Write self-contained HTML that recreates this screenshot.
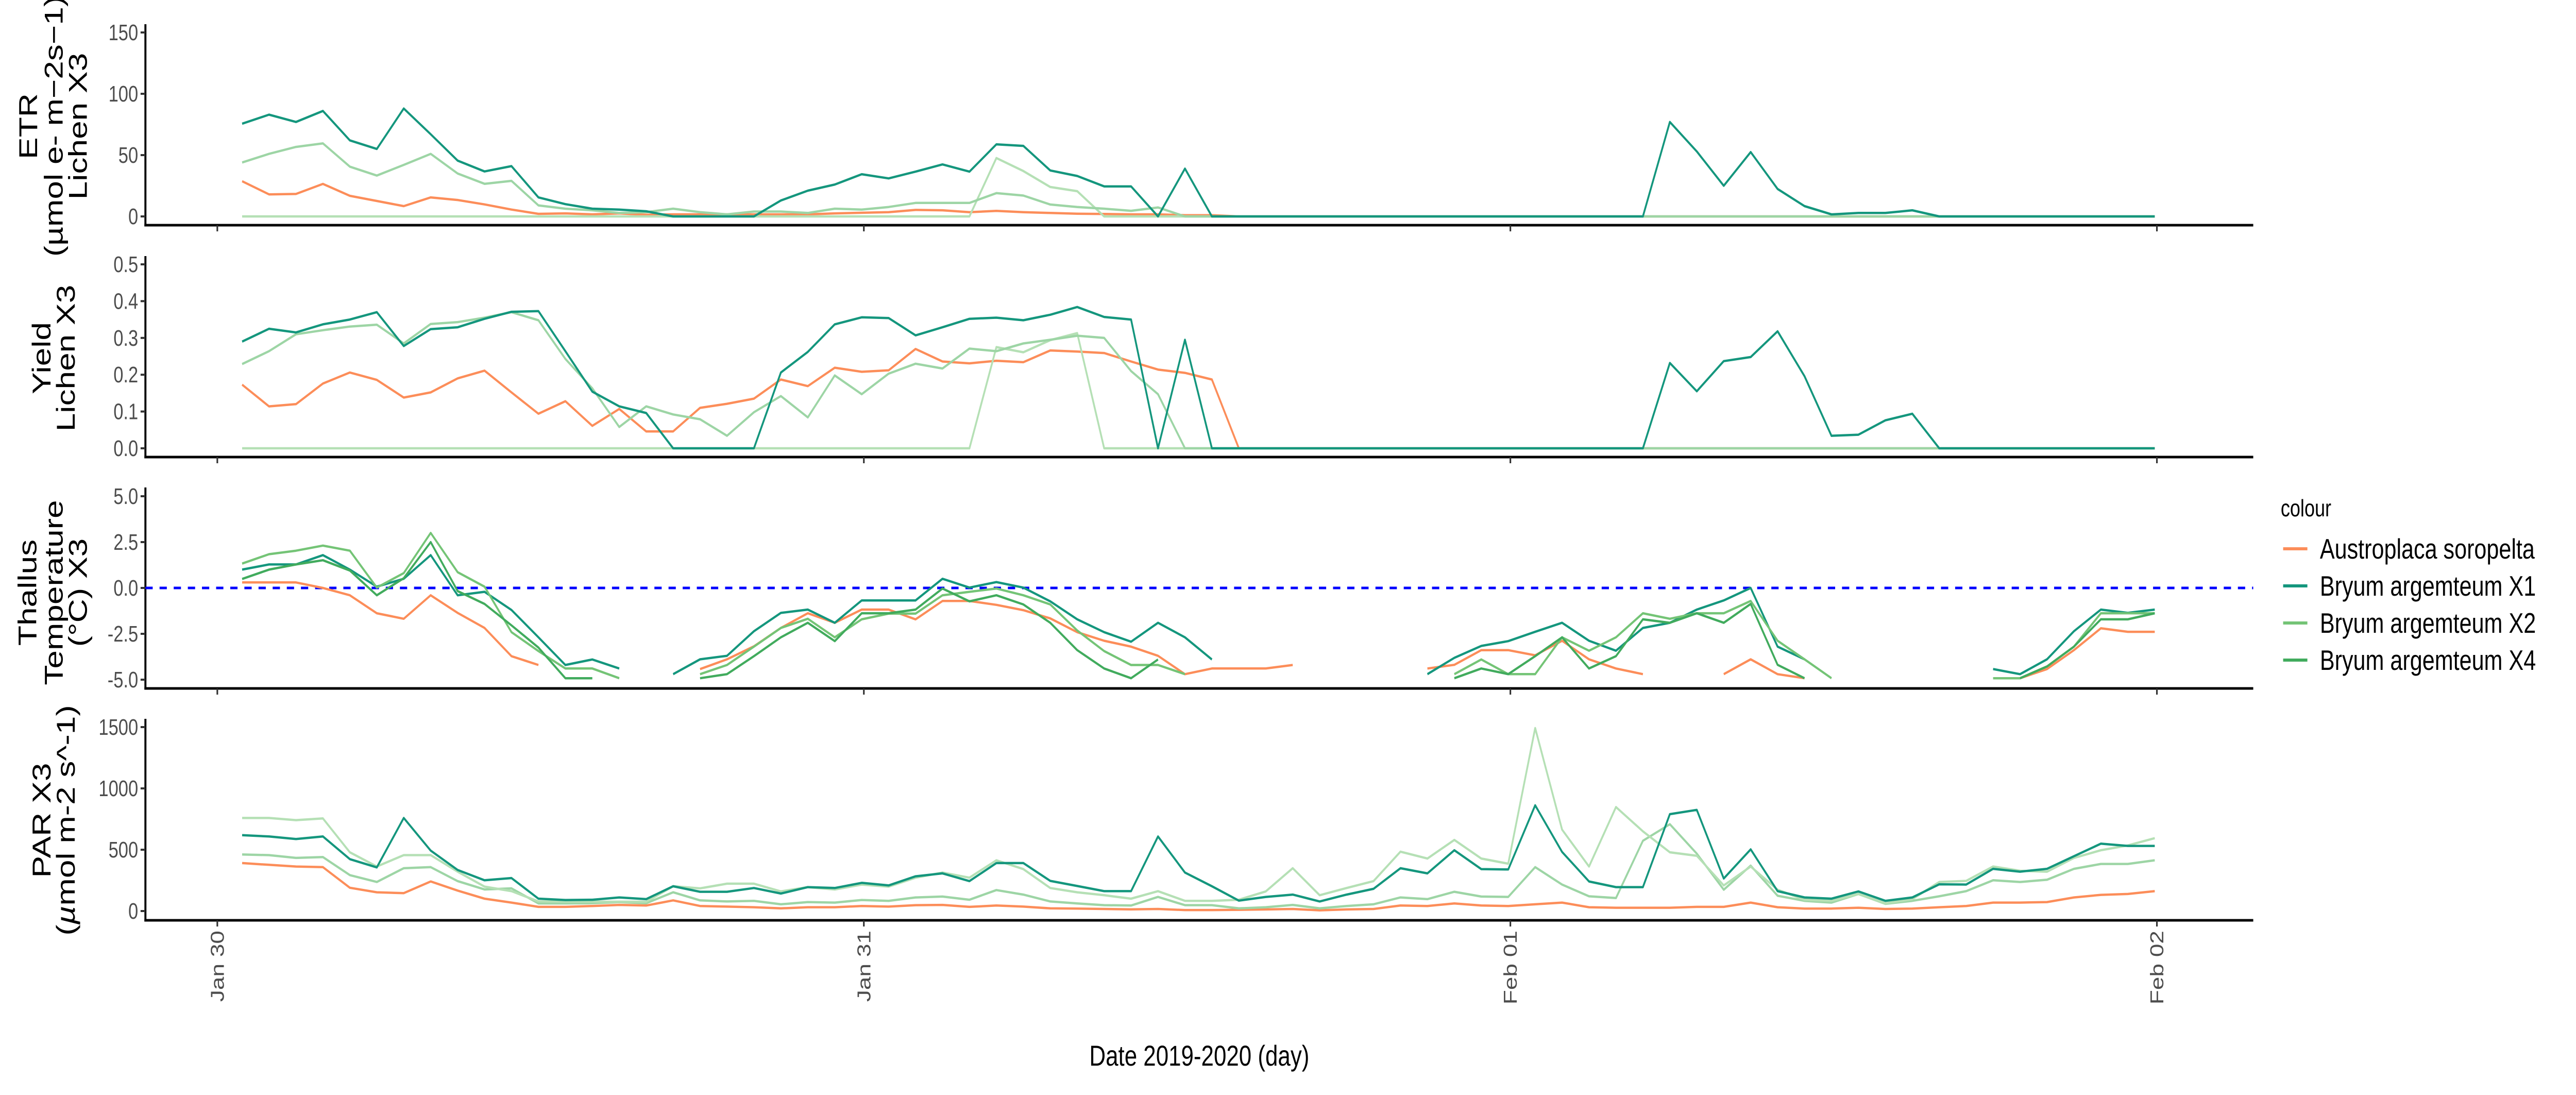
<!DOCTYPE html>
<html><head><meta charset="utf-8"><style>
html,body{margin:0;padding:0;background:#fff;overflow:hidden;width:100%;height:100%;}
svg{display:block;font-family:"Liberation Sans",sans-serif;width:100vw;height:100vh;}
</style></head><body>
<svg id="chart" viewBox="0 0 6377 2125" preserveAspectRatio="none" xmlns="http://www.w3.org/2000/svg">
<rect x="0" y="0" width="6377" height="2125" fill="#fff"/>
<g id="axes"></g>
<g id="marks"></g>
<g font-size="64" fill="#000" text-anchor="middle">
<text transform="translate(92,245) rotate(-90)">ETR</text>
<text transform="translate(155,245) rotate(-90)">(µmol e- m−2s−1)</text>
<text transform="translate(215,245) rotate(-90)">Lichen X3</text>
</g>
<g font-size="64" fill="#000" text-anchor="middle">
<text transform="translate(125,695) rotate(-90)">Yield</text>
<text transform="translate(185,695) rotate(-90)">Lichen X3</text>
</g>
<g font-size="64" fill="#000" text-anchor="middle">
<text transform="translate(90,1150) rotate(-90)">Thallus</text>
<text transform="translate(155,1150) rotate(-90)">Temperature</text>
<text transform="translate(215,1150) rotate(-90)">(°C) X3</text>
</g>
<g font-size="64" fill="#000" text-anchor="middle">
<text transform="translate(125,1592) rotate(-90)">PAR X3</text>
<text transform="translate(185,1592) rotate(-90)">(<tspan font-style="italic">µ</tspan>mol m-2 s^-1)</text>
</g>
<text x="2969" y="2068" font-size="56" text-anchor="middle" fill="#000">Date 2019-2020 (day)</text>
<g>
<text x="5646" y="1002" font-size="46" fill="#000">colour</text>
<g><line x1="5652" y1="1065" x2="5712" y2="1065" stroke="#fc8d59" stroke-width="6"/><text x="5743" y="1084" font-size="55">Austroplaca soropelta</text></g>
<g><line x1="5652" y1="1137" x2="5712" y2="1137" stroke="#14967d" stroke-width="6"/><text x="5743" y="1156" font-size="55">Bryum argemteum X1</text></g>
<g><line x1="5652" y1="1209" x2="5712" y2="1209" stroke="#74c476" stroke-width="6"/><text x="5743" y="1228" font-size="55">Bryum argemteum X2</text></g>
<g><line x1="5652" y1="1281" x2="5712" y2="1281" stroke="#41ab5d" stroke-width="6"/><text x="5743" y="1300" font-size="55">Bryum argemteum X4</text></g>
</g>
</svg>
<script>
var N=null;
var xTickLabels=["Jan 30","Jan 31","Feb 01","Feb 02"];
var etrTicks=[0,50,100,150];
var yieldTicks=["0.0","0.1","0.2","0.3","0.4","0.5"];
var tempTicks=["-5.0","-2.5","0.0","2.5","5.0"];
var parTicks=[0,500,1000,1500];
var etrAustro=[28.7,18,18.3,26.5,16.8,12.6,8.4,15.5,13.4,9.8,5.6,2.1,2.5,1.7,2.5,1.4,1.7,1.7,1.7,1.7,1.7,1.7,2.5,3,3.5,5.3,5,3.5,4.5,3.5,2.8,2.2,2,1.7,1.7,1,1,0,0,0,0,0,0,0,0,0,0,0,0,0,0,0,0,0,0,0,0,0,0,0,0,0,0,0,0,0,0,0,0,0,0,0];
var etrX1=[75.6,83,77,86,62,55,88,67,45.5,36.7,41,15.5,10,6.3,5.6,4.2,0,0,0,0,13,21,26,34.4,31,36.5,42.4,36.5,58.8,57.5,37.5,33,24.5,24.5,0,39,0,0,0,0,0,0,0,0,0,0,0,0,0,0,0,0,0,77,53,25,52.5,22.4,8.4,1.7,2.8,2.8,5,0,0,0,0,0,0,0,0,0];
var etrX2=[44,51,56.7,59.6,40.6,33.3,42,51,35,26.6,29,9,6.3,5,2.8,3.5,6.3,3.5,1.7,4,4,2.8,6.3,5.6,7.7,11,11,11,19,17,9.7,7.7,6.3,4.6,7.3,0,0,0,0,0,0,0,0,0,0,0,0,0,0,0,0,0,0,0,0,0,0,0,0,0,0,0,0,0,0,0,0,0,0,0,0,0];
var etrX4=[0,0,0,0,0,0,0,0,0,0,0,0,0,0,0,0,0,0,0,0,0,0,0,0,0,0,0,0,47.6,37,24,20.6,0,0,0,0,0,0,0,0,0,0,0,0,0,0,0,0,0,0,0,0,0,0,0,0,0,0,0,0,0,0,0,0,0,0,0,0,0,0,0,0];
var yieldAustro=[0.173,0.114,0.12,0.176,0.206,0.186,0.138,0.152,0.19,0.211,0.152,0.094,0.128,0.061,0.107,0.046,0.046,0.11,0.121,0.135,0.187,0.169,0.219,0.208,0.212,0.27,0.236,0.231,0.238,0.234,0.266,0.263,0.259,0.236,0.214,0.205,0.187,0,0,0,0,0,0,0,0,0,0,0,0,0,0,0,0,0,0,0,0,0,0,0,0,0,0,0,0,0,0,0,0,0,0,0];
var yieldX1=[0.29,0.325,0.315,0.337,0.35,0.37,0.278,0.324,0.329,0.352,0.371,0.373,0.264,0.154,0.114,0.096,0,0,0,0,0.206,0.262,0.337,0.356,0.354,0.307,0.329,0.352,0.355,0.348,0.363,0.384,0.357,0.35,0,0.295,0,0,0,0,0,0,0,0,0,0,0,0,0,0,0,0,0,0.232,0.155,0.237,0.248,0.318,0.196,0.034,0.037,0.076,0.094,0,0,0,0,0,0,0,0,0];
var yieldX2=[0.229,0.264,0.31,0.321,0.331,0.336,0.285,0.338,0.343,0.355,0.37,0.348,0.243,0.163,0.058,0.114,0.092,0.079,0.034,0.098,0.142,0.084,0.198,0.147,0.203,0.23,0.217,0.271,0.264,0.285,0.295,0.306,0.3,0.21,0.147,0,0,0,0,0,0,0,0,0,0,0,0,0,0,0,0,0,0,0,0,0,0,0,0,0,0,0,0,0,0,0,0,0,0,0,0,0];
var yieldX4=[0,0,0,0,0,0,0,0,0,0,0,0,0,0,0,0,0,0,0,0,0,0,0,0,0,0,0,0,0.275,0.261,0.294,0.313,0,0,0,0,0,0,0,0,0,0,0,0,0,0,0,0,0,0,0,0,0,0,0,0,0,0,0,0,0,0,0,0,0,0,0,0,0,0,0,0];
var tempAustro=[0.3,0.3,0.3,0,-0.4,-1.38,-1.68,-0.4,-1.36,-2.18,-3.72,-4.2,N,N,N,N,N,-4.42,-3.89,-3.18,-2.18,-1.38,-1.9,-1.18,-1.18,-1.71,-0.71,-0.71,-0.92,-1.21,-1.66,-2.41,-2.88,-3.2,-3.7,-4.7,-4.39,-4.39,-4.39,-4.2,N,N,N,N,-4.39,-4.19,-3.39,-3.39,-3.67,-2.88,-3.89,-4.39,-4.7,N,N,-4.7,-3.89,-4.7,-4.92,N,N,N,N,N,N,N,-4.92,-4.42,-3.39,-2.2,-2.39,-2.39];
var tempX1=[1.0,1.28,1.28,1.79,1.0,0.07,0.5,1.79,-0.4,-0.21,-1.2,-2.69,-4.2,-3.9,-4.39,N,-4.7,-3.89,-3.7,-2.36,-1.36,-1.18,-1.9,-0.68,-0.68,-0.68,0.5,0.02,0.32,0.02,-0.73,-1.71,-2.41,-2.93,-1.9,-2.69,-3.9,N,N,N,N,N,N,N,-4.7,-3.81,-3.16,-2.9,-2.39,-1.9,-2.88,-3.42,-2.18,-1.9,-1.18,-0.68,0,-3.2,-3.89,N,N,N,N,N,N,-4.42,-4.7,-3.89,-2.36,-1.18,-1.36,-1.18];
var tempX2=[1.33,1.84,2.03,2.31,2.03,0.02,0.81,3.0,0.86,0.07,-2.41,-3.44,-4.39,-4.39,-4.92,N,N,-4.7,-4.2,-3.2,-2.18,-1.68,-2.69,-1.71,-1.4,-1.4,-0.4,-0.21,-0.03,-0.4,-0.9,-2.32,-3.44,-4.2,-4.2,-4.7,N,N,N,N,N,N,N,N,N,-4.7,-3.9,-4.7,-4.7,-2.69,-3.42,-2.69,-1.38,-1.68,-1.38,-1.38,-0.71,-2.88,-3.89,-4.92,N,N,N,N,N,-4.92,-4.92,-4.28,-3.2,-1.38,-1.38,-1.38];
var tempX4=[0.49,1.0,1.28,1.51,0.95,-0.4,0.53,2.5,-0.17,-0.87,-2.04,-3.25,-4.92,-4.92,N,N,N,-4.92,-4.7,-3.72,-2.69,-1.9,-2.9,-1.38,-1.38,-1.18,-0.03,-0.73,-0.4,-0.9,-1.9,-3.39,-4.39,-4.92,-3.9,N,N,N,N,N,N,N,N,N,N,-4.92,-4.39,-4.7,-3.72,-2.69,-4.39,-3.72,-1.71,-1.9,-1.38,-1.9,-0.87,-4.19,-4.92,N,N,N,N,N,N,N,-4.92,-4.28,-3.2,-1.71,-1.71,-1.38];
var parAustro=[391,377,363,358,190,153,146,241,167,101,69,34,34,41,50,45,87,41,36,31,22,31,31,41,36,48,50,34,45,36,22,20,17,14,17,8,8,10,13,17,6,13,17,45,41,62,45,41,55,69,31,27,27,27,34,34,69,31,20,20,27,17,20,31,41,69,69,73,111,132,139,162];
var parX1=[619,608,587,608,423,356,759,493,335,251,269,101,90,92,111,97,202,157,157,188,143,195,188,230,209,283,307,244,391,391,246,204,162,162,608,314,202,85,115,134,78,134,181,349,307,496,342,339,862,482,241,195,195,790,825,265,503,162,111,101,160,83,111,218,216,344,321,344,447,549,531,531];
var parX2=[759,759,741,755,479,363,456,456,321,199,162,78,76,76,76,76,202,185,223,223,160,195,176,216,199,272,314,272,414,342,188,153,129,101,162,83,83,92,160,349,129,188,244,484,428,580,428,386,1492,664,363,848,650,479,451,209,363,174,92,83,139,62,97,237,246,363,328,321,433,496,535,594];
var parX4=[461,456,433,440,293,237,349,358,244,176,185,62,62,64,73,64,153,87,78,83,55,73,69,90,83,111,118,92,171,134,78,62,48,45,115,48,48,22,31,50,22,41,55,111,97,157,118,115,358,216,120,106,573,708,468,174,370,125,83,69,139,59,83,120,162,251,237,255,344,384,384,414];

var NS="http://www.w3.org/2000/svg";
var axesG=document.getElementById("axes");
var marksG=document.getElementById("marks");
var X0=360,X1=5578,DAY0=538,DAYPX=1600.5,START_H=0.92;
function xOfHour(h){return DAY0+h*DAYPX/24;}
function xOfIndex(i){return xOfHour(START_H+i);}
function mk(tag,attrs,parent){var e=document.createElementNS(NS,tag);for(var k in attrs)e.setAttribute(k,attrs[k]);parent.appendChild(e);return e;}

var panels=[
 {name:"etr",top:47,bottom:437,v0:0,y0:420,v1:150,y1:63,ticks:etrTicks,
  series:[["austroplaca",etrAustro,"#fc8d59"],["bryum-x4",etrX4,"#b5e0b5"],["bryum-x2",etrX2,"#9dd5a5"],["bryum-x1",etrX1,"#14967d"]]},
 {name:"yield",top:497,bottom:887,v0:0,y0:870,v1:0.5,y1:513,ticks:yieldTicks,
  series:[["austroplaca",yieldAustro,"#fc8d59"],["bryum-x4",yieldX4,"#b5e0b5"],["bryum-x2",yieldX2,"#9dd5a5"],["bryum-x1",yieldX1,"#14967d"]]},
 {name:"temperature",top:946,bottom:1336,v0:0,y0:1141,v1:-5,y1:1319,ticks:tempTicks,
  series:[["austroplaca",tempAustro,"#fc8d59"],["bryum-x1",tempX1,"#14967d"],["bryum-x2",tempX2,"#74c476"],["bryum-x4",tempX4,"#41ab5d"]]},
 {name:"par",top:1395,bottom:1786,v0:0,y0:1768,v1:1500,y1:1411,ticks:parTicks,
  series:[["austroplaca",parAustro,"#fc8d59"],["bryum-x4",parX4,"#9dd5a5"],["bryum-x2",parX2,"#b5e0b5"],["bryum-x1",parX1,"#14967d"]]}
];

panels.forEach(function(p){
  var yOf=function(v){return p.y0+(v-p.v0)*(p.y1-p.y0)/(p.v1-p.v0);};
  var g=mk("g",{},axesG);
  
  
  var yl=mk("line",{x1:X0,y1:p.top,x2:X0,y2:p.bottom+2.5,stroke:"#000","stroke-width":5},g);
  
  
  var xl=mk("line",{x1:X0-2.5,y1:p.bottom,x2:X1,y2:p.bottom,stroke:"#000","stroke-width":5},g);
  
  
  p.ticks.forEach(function(t){
    var v=parseFloat(t),y=yOf(v);
    var tk=mk("line",{x1:X0-12,y1:y,x2:X0,y2:y,stroke:"#333","stroke-width":4},g);
    
    
    var tl=mk("text",{x:X0-18,y:y+15,"font-size":44,"text-anchor":"end",fill:"#4d4d4d"},g);
    tl.textContent=String(t);
    
    
  });
  xTickLabels.forEach(function(lbl,d){
    var x=DAY0+d*DAYPX;
    var tk=mk("line",{x1:x,y1:p.bottom,x2:x,y2:p.bottom+12,stroke:"#333","stroke-width":4},g);
    
    
  });
  if(p.name==="temperature"){
    var ref=mk("line",{x1:X0,y1:yOf(0),x2:X1,y2:yOf(0),stroke:"#0000ff","stroke-width":5,"stroke-dasharray":"18 17"},marksG);
    
    
  }
  p.series.forEach(function(s){
    var vals=s[1],d="",pen=false;
    for(var i=0;i<vals.length;i++){
      if(vals[i]===null){pen=false;continue;}
      d+=(pen?"L":"M")+xOfIndex(i).toFixed(1)+" "+yOf(vals[i]).toFixed(1)+" ";
      pen=true;
    }
    var path=mk("path",{d:d,fill:"none",stroke:s[2],"stroke-width":4.5,"stroke-linejoin":"round"},marksG);
    
    
  });
});
xTickLabels.forEach(function(lbl,d){
  var x=DAY0+d*DAYPX+16;
  var t=mk("text",{transform:"translate("+x+",1806) rotate(-90)","font-size":46,"text-anchor":"end",fill:"#4d4d4d"},axesG);
  t.textContent=lbl;
  
  
});
</script>
</body></html>
